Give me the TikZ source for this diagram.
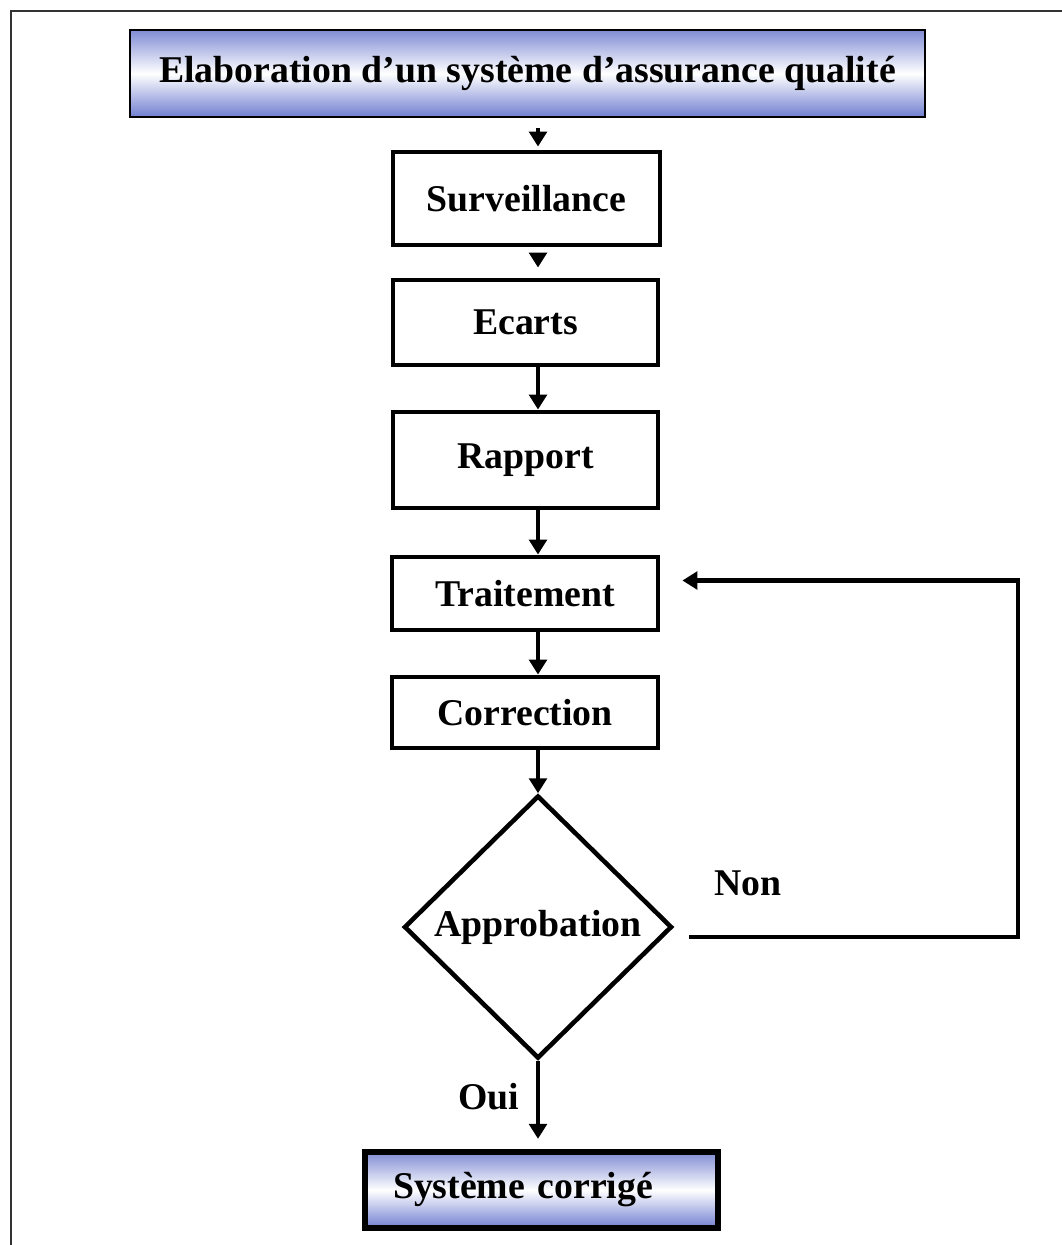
\documentclass[tikz,border=0pt]{standalone}
\usepackage{fontspec}
\setmainfont{Liberation Serif}
\usetikzlibrary{shapes.geometric,arrows.meta}

\definecolor{shadeblue}{RGB}{112,126,208}
\definecolor{shadetop}{RGB}{128,140,212}

\tikzset{
  lbl/.style={font=\fontsize{21.5}{26}\selectfont\bfseries, text=black},
  stepbox/.style={lbl, draw=black, line width=2.8pt, fill=white, inner sep=0pt},
  shadebox/.style={lbl, draw=black, inner sep=0pt, top color=shadetop, bottom color=shadeblue, middle color=white},
  decision/.style={lbl, draw=black, line width=2.6pt, diamond, inner sep=0pt, fill=white},
  tip/.style={-{Triangle[width=10pt,length=8.5pt]}},
  arr/.style={line width=2.5pt, tip},
  loopline/.style={line width=2.5pt, line join=miter}
}

\begin{document}
\begin{tikzpicture}[x=0.02cm, y=-0.02cm]
  \useasboundingbox (0,0) rectangle (1062,1245);
  \fill[white] (0,0) rectangle (1062,1245);
  \clip (0,0) rectangle (1062,1245);

  % page frame
  \draw[line width=1.2pt, black!80] (11,11) rectangle (1090,1270);

  % guide coordinates for the main column and the return loop
  \coordinate (spine) at (538,0);
  \coordinate (loopR) at (1018,0);

  % boxes
  \node[shadebox, line width=1.4pt, minimum width=15.9cm, minimum height=1.74cm]
    (title) at (527.5,73.5) {Elaboration d’un système d’assurance qualité};
  \node[stepbox, minimum width=5.34cm, minimum height=1.86cm] (surv) at (526.5,198.5) {Surveillance};
  \node[stepbox, minimum width=5.3cm, minimum height=1.7cm] (ecarts) at (525.5,322.5) {Ecarts};
  \node[stepbox, minimum width=5.3cm, minimum height=1.92cm] (rapport) at (525.5,460) {Rapport};
  \node[stepbox, minimum width=5.32cm, minimum height=1.46cm] (trait) at (525,593.5) {Traitement};
  \node[stepbox, minimum width=5.32cm, minimum height=1.42cm] (corr) at (525,712.5) {Correction};
  \node[decision, minimum width=5.36cm, minimum height=5.26cm] (appro) at (538,927) {Approbation};
  \node[shadebox, line width=3.6pt, minimum width=7.06cm, minimum height=1.52cm,
        text width=5.94cm, inner xsep=0.56cm, align=left]
    (sys) at (541.5,1190) {Système corrigé};

  % labels
  \node[lbl] (non) at (748,883) {Non};
  \node[lbl] (oui) at (489,1097) {Oui};

  % main flow
  \draw[arr, shorten <=0.2cm, shorten >=0.06cm] (title.south -| spine) -- (surv.north -| spine);
  \draw[arr, shorten <=0.12cm, shorten >=0.2cm] (surv.south -| spine) -- (ecarts.north -| spine);
  \draw[arr] (ecarts.south -| spine) -- (rapport.north -| spine);
  \draw[arr] (rapport.south -| spine) -- (trait.north -| spine);
  \draw[arr] (trait.south -| spine) -- (corr.north -| spine);
  \draw[arr] (corr.south -| spine) -- (appro.north);
  \draw[arr, shorten >=0.2cm] (appro.south) -- (sys.north -| spine);

  % return loop
  \draw[loopline, tip, shorten >=0.44cm]
    ([xshift=0.3cm, yshift=-0.2cm]appro.east) -- ([yshift=-0.2cm]appro.east -| loopR)
    -- ([yshift=0.26cm]trait.east -| loopR) -- ([yshift=0.26cm]trait.east);
\end{tikzpicture}
\end{document}
